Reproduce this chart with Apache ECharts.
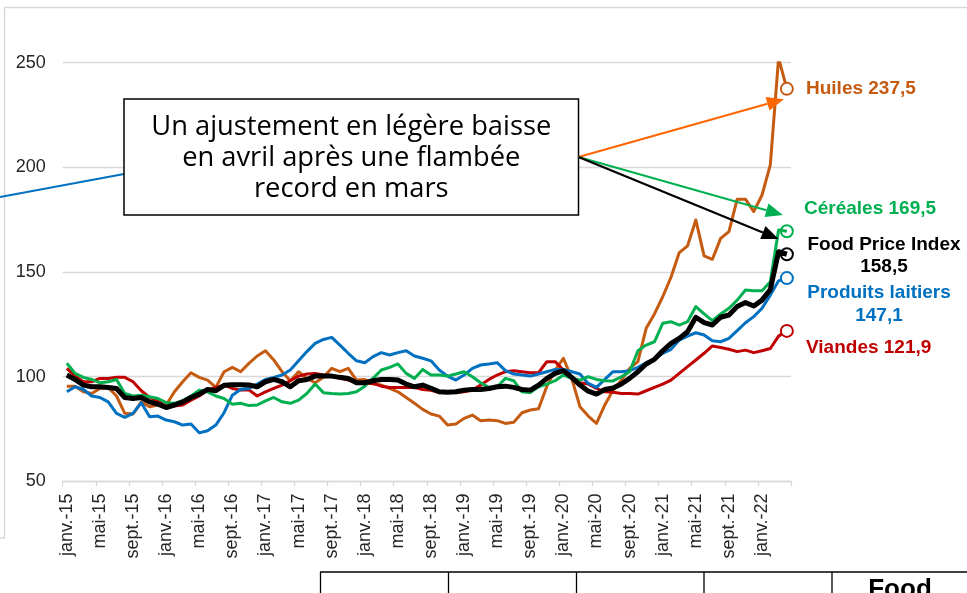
<!DOCTYPE html>
<html><head><meta charset="utf-8">
<script src="https://cdn.jsdelivr.net/npm/echarts@6/dist/echarts.min.js"></script>
<style>html,body{margin:0;padding:0;background:#fff;overflow:hidden}#c{width:967px;height:593px}</style>
</head><body><div id="c"></div>
<script>
// ---- data ----
const monthNames = ['janv.','févr.','mars','avr.','mai','juin','juil.','août','sept.','oct.','nov.','déc.'];
const years = ['15','16','17','18','19','20','21','22'];
const nMonths = 88; // janv.-15 .. avr.-22
const categories = [];
for (let i = 0; i < nMonths; i++) categories.push(monthNames[i % 12] + '-' + years[Math.floor(i / 12)]);
const yTicks = [50, 100, 150, 200, 250];

const fpi = [100.8,98.7,96.0,95.2,95.2,94.9,94.4,90.1,89.6,90.1,88.0,86.9,
85.3,86.5,88.0,90.1,91.7,93.9,93.3,95.9,96.2,96.2,96.1,95.2,
97.6,98.7,97.6,95.2,98.1,98.7,100.3,100.3,100.3,99.7,99.2,97.1,
97.1,98.1,98.7,98.7,98.4,96.5,95.2,96.0,94.5,92.8,92.6,92.8,
93.6,93.9,93.9,94.4,95.2,95.5,94.9,93.9,93.6,96.0,99.2,101.6,
102.9,99.7,96.0,93.1,91.7,93.9,94.6,96.5,99.2,102.4,106.1,108.3,
112.4,115.9,118.3,121.5,128.4,125.8,124.7,128.4,129.5,133.5,135.4,133.8,
136.6,141.7,159.7,158.5];

const cereales = [106.4,101.6,99.7,98.7,97.1,97.6,98.7,92.0,90.8,91.2,90.4,89.6,
87.6,87.3,88.5,90.8,93.6,92.8,90.8,89.6,86.9,87.3,86.2,86.5,
88.5,90.1,88.0,87.3,88.8,92.0,96.5,92.4,92.0,91.7,92.0,92.8,
95.5,99.2,103.2,104.5,106.1,101.6,99.2,103.5,100.8,100.8,100.3,101.3,
102.4,100.0,97.1,94.9,95.2,99.2,98.1,92.8,92.4,95.2,96.5,98.1,
100.8,99.2,98.4,100.0,98.7,98.1,98.0,100.0,102.4,112.4,115.1,116.7,
125.5,126.3,124.7,126.3,133.5,130.0,126.8,130.0,132.7,136.6,141.4,141.1,
141.1,145.4,170.1,169.5];

const laitiers = [92.8,95.2,93.9,90.8,90.1,88.0,82.5,80.6,82.5,87.6,80.9,81.2,
79.3,78.5,76.9,77.4,73.2,74.2,76.9,82.8,91.2,93.9,94.4,96.5,
98.7,99.7,100.8,103.2,107.6,112.0,115.9,117.8,118.8,115.1,111.2,107.6,
106.7,109.6,111.5,110.4,111.5,112.4,109.9,108.8,107.6,103.2,100.3,98.4,
100.8,104.0,105.6,106.1,106.7,102.9,101.3,100.8,100.3,101.3,102.4,103.5,
103.5,102.4,101.3,96.8,94.9,98.7,102.4,102.4,102.9,104.5,106.7,108.3,
111.2,113.1,117.5,119.4,121.0,119.9,117.2,116.7,118.3,122.0,125.8,128.7,
132.7,139.0,145.8,147.1];

const viandes = [104.0,100.3,97.6,97.6,99.2,99.2,99.7,99.7,97.6,93.3,90.1,88.5,
85.7,86.0,86.5,88.8,90.8,93.6,94.9,96.0,94.4,93.6,93.7,90.8,
92.8,94.4,96.0,98.1,100.3,101.3,101.6,100.8,100.3,99.2,98.4,97.1,
96.8,96.8,95.5,94.9,94.9,94.9,94.9,93.9,93.5,92.4,92.8,92.4,
92.8,93.6,96.0,98.7,100.8,102.4,102.9,102.4,101.9,101.9,107.2,107.2,
103.2,99.2,97.1,96.5,94.4,92.8,92.6,92.0,92.0,91.7,93.3,94.9,
96.5,98.4,101.6,104.8,108.0,111.2,114.7,114.0,113.1,112.0,112.7,111.5,
112.4,113.5,119.4,121.9];

const huiles = [95.5,95.5,92.8,92.0,94.4,94.9,90.8,82.5,82.2,88.0,85.7,86.5,
86.5,92.8,97.6,101.9,99.7,98.4,94.9,102.4,104.5,102.4,106.4,109.9,
112.4,108.0,102.4,98.1,102.4,99.2,97.1,99.7,104.0,102.4,104.0,98.4,
98.7,96.5,96.0,94.4,92.8,90.1,87.3,84.4,82.2,81.2,76.9,77.4,
80.1,81.7,79.0,79.3,79.0,77.7,78.3,82.8,84.1,84.7,95.5,103.2,
108.8,99.2,85.7,81.2,77.7,86.5,93.5,98.4,104.0,107.2,123.1,130.0,
138.2,147.5,159.3,162.5,174.9,157.7,156.1,166.1,169.3,184.8,184.8,178.9,
186.8,201.2,252.2,237.5];

const seriesNames = ['Huiles','Céréales','Produits laitiers','Viandes','Food Price Index'];
const annotationLines = ['Un ajustement en légère baisse','en avril après une flambée','record en mars'];

// ---- style ----
const C = {huiles:'#C55A11', cereales:'#00B050', laitiers:'#0070C0', viandes:'#C00000', fpi:'#000000', arrowOrange:'#FF6600'};
const last = nMonths - 1;
const fmt = v => v.toFixed(1).replace('.', ',');

function lineSeries(name, data, color, width, z) {
  return {
    name, type:'line', data, showSymbol:false, symbol:'none', z,
    lineStyle:{color, width, join:'round'}, itemStyle:{color},
    animation:false, silent:true,
    markPoint:{
      symbol:'circle', symbolSize:12, silent:true, animation:false,
      itemStyle:{color:'#fff', borderColor:color, borderWidth:2},
      label:{show:false},
      data:[{coord:[last, data[last]]}]
    }
  };
}

const chart = echarts.init(document.getElementById('c'), null, {renderer:'canvas'});
const baseFont = 'Liberation Sans, Arial, sans-serif';

const option = {
  animation:false,
  backgroundColor:'#fff',
  grid:{left:62.7, right:176, top:62.7, bottom:111.6, containLabel:false},
  xAxis:{
    type:'category', data:categories, boundaryGap:true,
    axisLine:{lineStyle:{color:'#d9d9d9', width:1.3}},
    axisTick:{show:true, interval:3, length:5, lineStyle:{color:'#d9d9d9', width:1.3}},
    axisLabel:{interval:3, rotate:90, fontSize:18, color:'#262626', fontFamily:baseFont, margin:12},
    splitLine:{show:false}
  },
  yAxis:{
    type:'value', min:yTicks[0], max:yTicks[yTicks.length-1], interval:50,
    axisLine:{show:false}, axisTick:{show:false},
    axisLabel:{fontSize:18, color:'#262626', fontFamily:baseFont, margin:17},
    splitLine:{lineStyle:{color:'#d9d9d9', width:1.3}}
  },
  series:[
    lineSeries(seriesNames[0], huiles, C.huiles, 3, 2),
    lineSeries(seriesNames[3], viandes, C.viandes, 3, 3),
    lineSeries(seriesNames[2], laitiers, C.laitiers, 3, 4),
    lineSeries(seriesNames[1], cereales, C.cereales, 3, 5),
    lineSeries(seriesNames[4], fpi, C.fpi, 5, 6)
  ]
};
chart.setOption(option);

// ---- annotations ----
function arrow(x1, y1, x2, y2, color, w, hl, hw) {
  const dx = x2 - x1, dy = y2 - y1, L = Math.hypot(dx, dy);
  const ux = dx / L, uy = dy / L;
  const bx = x2 - ux * hl, by = y2 - uy * hl;
  return [
    {type:'line', z:50, shape:{x1, y1, x2:bx, y2:by}, style:{stroke:color, lineWidth:w}},
    {type:'polygon', z:50, shape:{points:[[x2, y2],[bx - uy*hw/2, by + ux*hw/2],[bx + uy*hw/2, by - ux*hw/2]]}, style:{fill:color}}
  ];
}
const px = (i, v) => chart.convertToPixel({xAxisIndex:0, yAxisIndex:0}, [i, v]);

const box = {x:124, y:99, w:454.5, h:116};
const start = [box.x + box.w, 157];
const tO = px(last, 232.6), tG = px(last, 177.3), tK = px(last - 1, 165.8);

const labelFont = 'bold 19px Liberation Sans, Arial, sans-serif';
const lblX = 806;
const g = [
  // frame fragments of the slide
  {type:'line', z:1, shape:{x1:4, y1:7.5, x2:967, y2:7.5}, style:{stroke:'#d9d9d9', lineWidth:1.5}},
  {type:'line', z:1, shape:{x1:4.5, y1:7, x2:4.5, y2:538}, style:{stroke:'#d9d9d9', lineWidth:1.5}},
  {type:'line', z:1, shape:{x1:0, y1:538, x2:5, y2:538}, style:{stroke:'#d9d9d9', lineWidth:1.5}},
  // table at bottom
  {type:'line', z:1, shape:{x1:320, y1:572, x2:967, y2:572}, style:{stroke:'#000', lineWidth:1.3}},
  ...[320.5, 448.5, 576.5, 704, 832].map(x => ({type:'line', z:1, shape:{x1:x, y1:572, x2:x, y2:593}, style:{stroke:'#000', lineWidth:1.3}})),
  {type:'text', z:1, style:{text:'Food', x:900, y:577, align:'center', verticalAlign:'top', font:'bold 26px Liberation Sans, Arial, sans-serif', fill:'#000'}},
  // blue pointer line from left
  {type:'line', z:40, shape:{x1:0, y1:197, x2:box.x, y2:174}, style:{stroke:C.laitiers, lineWidth:2}},
  // annotation box
  {type:'rect', z:45, shape:{x:box.x, y:box.y, width:box.w, height:box.h}, style:{fill:'#fff', stroke:'#000', lineWidth:1.5}},
  ...annotationLines.map((t, k) => ({type:'text', z:46, style:{text:t, x:box.x + box.w/2, y:127 + k*31, align:'center', verticalAlign:'middle', font:'27.3px Open Sans, sans-serif', fill:'#000'}})),
  ...arrow(start[0], start[1], tO[0] - 3, tO[1], C.arrowOrange, 2.2, 17, 14),
  ...arrow(start[0], start[1], tG[0] - 4, tG[1], C.cereales, 2.2, 17, 14),
  ...arrow(start[0], start[1], tK[0], tK[1], '#000', 2.2, 17, 14),
  // end labels
  {type:'text', z:60, style:{text:seriesNames[0] + ' ' + fmt(huiles[last]), x:lblX, y:89, verticalAlign:'middle', font:labelFont, fill:C.huiles}},
  {type:'text', z:60, style:{text:seriesNames[1] + ' ' + fmt(cereales[last]), x:lblX - 2, y:209, verticalAlign:'middle', font:labelFont, fill:C.cereales}},
  {type:'text', z:60, style:{text:seriesNames[4], x:884, y:245, align:'center', verticalAlign:'middle', font:labelFont, fill:C.fpi}},
  {type:'text', z:60, style:{text:fmt(fpi[last]), x:884, y:267, align:'center', verticalAlign:'middle', font:labelFont, fill:C.fpi}},
  {type:'text', z:60, style:{text:seriesNames[2], x:879, y:293, align:'center', verticalAlign:'middle', font:labelFont, fill:C.laitiers}},
  {type:'text', z:60, style:{text:fmt(laitiers[last]), x:879, y:316, align:'center', verticalAlign:'middle', font:labelFont, fill:C.laitiers}},
  {type:'text', z:60, style:{text:seriesNames[3] + ' ' + fmt(viandes[last]), x:lblX, y:348, verticalAlign:'middle', font:labelFont, fill:C.viandes}}
];
chart.setOption({graphic:{elements:g}});
</script>
</body></html>
